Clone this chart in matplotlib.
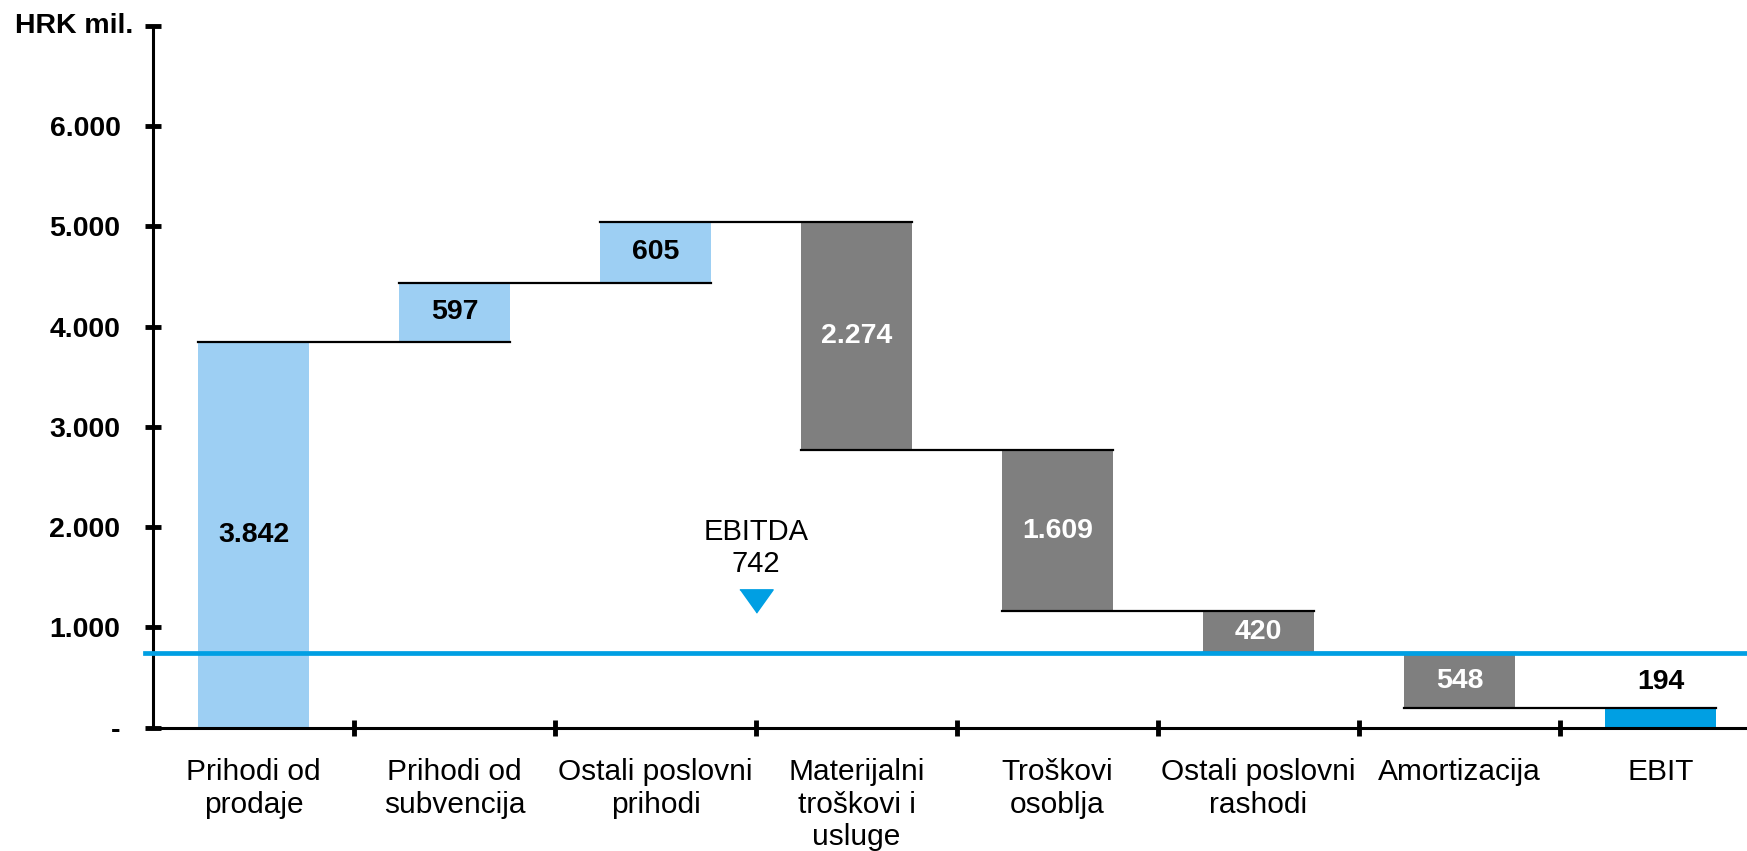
import matplotlib.pyplot as plt
from matplotlib.ticker import FuncFormatter

plt.rcParams['font.family'] = ['Liberation Sans', 'DejaVu Sans']

categories = ['Prihodi od\nprodaje', 'Prihodi od\nsubvencija', 'Ostali poslovni\nprihodi',
              'Materijalni\ntroškovi i\nusluge', 'Troškovi\nosoblja', 'Ostali poslovni\nrashodi',
              'Amortizacija', 'EBIT']
changes = [3842, 597, 605, -2274, -1609, -420, -548]
ebit = 194
ebitda = 742
value_labels = ['3.842', '597', '605', '2.274', '1.609', '420', '548', '194']

light_blue = '#9dcff3'
grey = '#7f7f7f'
blue = '#009fe3'
w = 0.55

fig = plt.figure(figsize=(17.47, 8.51), dpi=100)
ax = fig.add_axes([0.0876, 0.1449, 0.9204, 0.8249])

# waterfall
bottoms, heights, colors = [], [], []
level = 0
for c in changes:
    if c >= 0:
        bottoms.append(level)
        colors.append(light_blue)
    else:
        bottoms.append(level + c)
        colors.append(grey)
    heights.append(abs(c))
    level += c
bottoms.append(0)
heights.append(ebit)
colors.append(blue)

x = list(range(len(categories)))
ax.bar(x, heights, bottom=bottoms, width=w, color=colors, zorder=2)

# connectors
level = 0
for i, c in enumerate(changes):
    level += c
    ax.plot([i - w / 2, i + 1 + w / 2], [level, level], color='black', lw=1.6, zorder=3)

# EBITDA line
ax.axhline(ebitda, xmin=-0.005, color=blue, lw=3.4, zorder=4, clip_on=False)

# value labels
for i in range(len(changes)):
    txt_col = 'black' if changes[i] >= 0 else 'white'
    ax.text(i, bottoms[i] + heights[i] / 2, value_labels[i], ha='center', va='center',
            fontsize=20.5, fontweight='bold', color=txt_col, zorder=5)
ax.annotate(value_labels[-1], (7, ebit), xytext=(0, 19), textcoords='offset points',
            ha='center', va='center', fontsize=20.5, fontweight='bold', color='black', zorder=5)

# EBITDA annotation
ax.plot([2.5], [1260], marker=[(-1, 0.7), (1, 0.7), (0, -0.7)], markersize=24,
        color=blue, linestyle='none', zorder=5)
ax.text(2.5, 1790, 'EBITDA\n' + str(ebitda), ha='center', va='center', fontsize=21,
        linespacing=1.2)

ax.set_xlim(-0.5, 7.5)
ax.set_ylim(0, 7000)

for s in ['top', 'right']:
    ax.spines[s].set_visible(False)
for s in ['left', 'bottom']:
    ax.spines[s].set_linewidth(2.2)

ax.set_yticks(range(0, 7001, 1000))
ax.yaxis.set_major_formatter(FuncFormatter(
    lambda v, p: '-' if v == 0 else ('' if v >= 7000 else f'{int(v):,}'.replace(',', '.'))))
ax.tick_params(axis='y', direction='inout', length=11, width=3.5, pad=18, labelsize=20.5)
for t in ax.get_yticklabels():
    t.set_fontweight('bold')
ax.annotate('HRK mil.', xy=(0, 7000), xycoords=('axes fraction', 'data'), xytext=(-14, 0),
            textcoords='offset points', ha='right', va='center', fontsize=20.5, fontweight='bold',
            annotation_clip=False)

ax.set_xticks([i + 0.5 for i in range(7)])
ax.set_xticklabels([])
ax.tick_params(axis='x', which='major', direction='inout', length=11, width=3.5)
ax.set_xticks(x, minor=True)
ax.set_xticklabels(categories, minor=True, fontsize=21.5, linespacing=1.2)
ax.tick_params(axis='x', which='minor', length=0, pad=22)

fig.savefig('out.png', dpi=100)
